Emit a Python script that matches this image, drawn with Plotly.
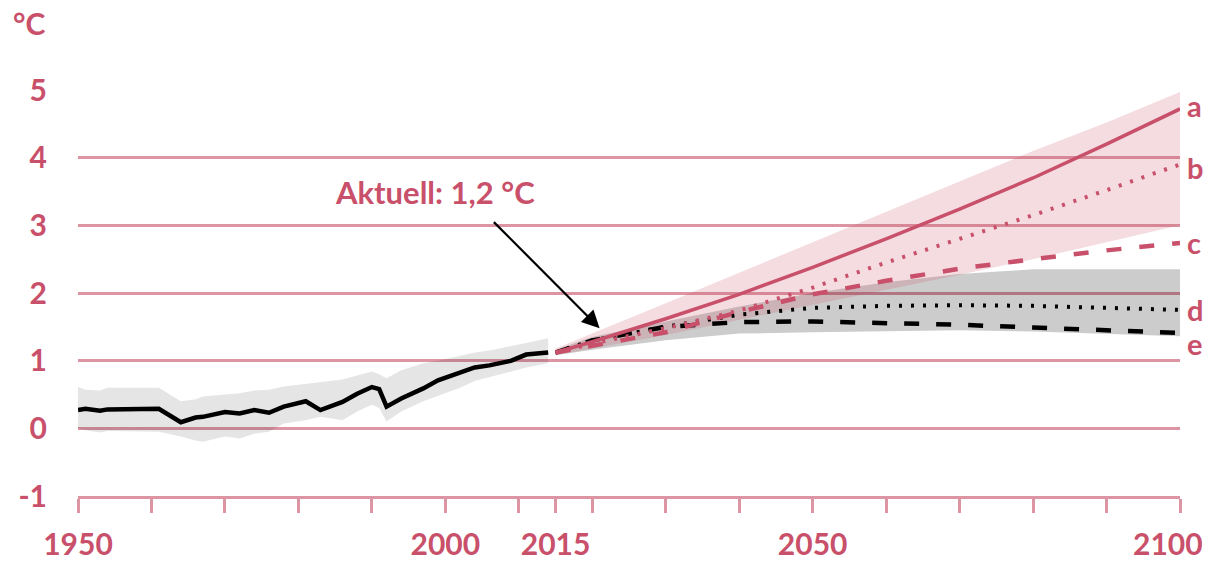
import plotly.graph_objects as go

# ---- data ----
hist_years = [1950, 1951, 1953, 1954, 1961, 1964, 1966, 1967, 1970, 1972, 1974, 1976, 1978,
              1981, 1983, 1986, 1988, 1990, 1991, 1992, 1994, 1997, 1999, 2002, 2004, 2006,
              2009, 2011, 2014]
hist_temp = [0.27, 0.29, 0.26, 0.28, 0.29, 0.09, 0.16, 0.17, 0.24, 0.22, 0.27, 0.23, 0.32,
             0.40, 0.27, 0.39, 0.51, 0.61, 0.58, 0.32, 0.44, 0.59, 0.71, 0.83, 0.90, 0.93,
             1.00, 1.09, 1.12]
hist_upper = [0.61, 0.57, 0.56, 0.60, 0.60, 0.40, 0.43, 0.47, 0.50, 0.52, 0.56, 0.57, 0.62,
              0.66, 0.68, 0.72, 0.78, 0.84, 0.80, 0.74, 0.86, 0.96, 1.00, 1.07, 1.12, 1.15,
              1.22, 1.27, 1.33]
hist_lower = [0.00, -0.03, -0.06, -0.04, -0.05, -0.12, -0.18, -0.20, -0.12, -0.15, -0.08, -0.05, 0.07,
              0.12, 0.17, 0.12, 0.25, 0.35, 0.30, 0.10, 0.25, 0.40, 0.48, 0.60, 0.70, 0.76,
              0.84, 0.90, 0.96]

proj_years = [2015, 2020, 2030, 2040, 2050, 2060, 2070, 2080, 2090, 2100]
scen_a = [1.12, 1.28, 1.62, 1.98, 2.38, 2.80, 3.24, 3.70, 4.20, 4.72]
scen_b = [1.12, 1.25, 1.48, 1.74, 2.08, 2.45, 2.80, 3.15, 3.52, 3.90]
scen_c = [1.12, 1.22, 1.42, 1.72, 1.98, 2.18, 2.36, 2.50, 2.63, 2.74]
scen_d = [1.12, 1.30, 1.50, 1.68, 1.78, 1.81, 1.82, 1.81, 1.78, 1.75]
scen_e = [1.12, 1.30, 1.50, 1.57, 1.58, 1.56, 1.53, 1.49, 1.45, 1.41]

red_upper = [1.18, 1.40, 1.85, 2.30, 2.75, 3.20, 3.65, 4.10, 4.52, 4.97]
red_lower = [1.08, 1.18, 1.38, 1.60, 1.82, 2.05, 2.27, 2.50, 2.75, 3.00]
gray_upper = [1.16, 1.35, 1.58, 1.80, 2.00, 2.16, 2.28, 2.35, 2.35, 2.35]
gray_lower = [1.08, 1.16, 1.30, 1.40, 1.42, 1.44, 1.45, 1.43, 1.40, 1.36]

scen_labels = ["a", "b", "c", "d", "e"]
label_y = [4.77, 3.86, 2.75, 1.75, 1.25]

x_tickvals = [1950, 1960, 1970, 1980, 1990, 2000, 2010, 2015, 2020, 2030, 2040, 2050,
              2060, 2070, 2080, 2090, 2100]
x_ticktext = ["1950", "", "", "", "", "2000", "", "2015", "", "", "", "2050",
              "", "", "", "", ""]
last_year_label = "2100"
y_tickvals = [-1, 0, 1, 2, 3, 4, 5]
y_ticktext = ["-1", "0", "1", "2", "3", "4", "5"]

# ---- styles ----
RED = "#c9506a"
GRID = "#dd95a3"
FONT = "Lato"
FS = 30

fig = go.Figure()

# historical uncertainty band
fig.add_trace(go.Scatter(
    x=hist_years + hist_years[::-1], y=hist_upper + hist_lower[::-1],
    fill="toself", fillcolor="rgba(0,0,0,0.10)", line=dict(width=0),
    mode="lines", hoverinfo="skip", showlegend=False))

# projection bands
fig.add_trace(go.Scatter(
    x=proj_years + proj_years[::-1], y=gray_upper + gray_lower[::-1],
    fill="toself", fillcolor="rgba(0,0,0,0.20)", line=dict(width=0),
    mode="lines", hoverinfo="skip", showlegend=False))
fig.add_trace(go.Scatter(
    x=proj_years + proj_years[::-1], y=red_upper + red_lower[::-1],
    fill="toself", fillcolor="rgba(201,80,106,0.20)", line=dict(width=0),
    mode="lines", hoverinfo="skip", showlegend=False))

# historical line
fig.add_trace(go.Scatter(x=hist_years, y=hist_temp, mode="lines",
                         line=dict(color="black", width=4.5), showlegend=False))

# scenario lines
fig.add_trace(go.Scatter(x=proj_years, y=scen_e, mode="lines",
                         line=dict(color="black", width=4.5, dash="15px,17px"), showlegend=False))
fig.add_trace(go.Scatter(x=proj_years, y=scen_d, mode="lines",
                         line=dict(color="black", width=4, dash="3px,9px"), showlegend=False))
fig.add_trace(go.Scatter(x=proj_years, y=scen_c, mode="lines",
                         line=dict(color=RED, width=4.5, dash="15px,18px"), showlegend=False))
fig.add_trace(go.Scatter(x=proj_years, y=scen_b, mode="lines",
                         line=dict(color=RED, width=4, dash="3px,9px"), showlegend=False))
fig.add_trace(go.Scatter(x=proj_years, y=scen_a, mode="lines",
                         line=dict(color=RED, width=3.5), showlegend=False))

# scenario letters
for lab, ly in zip(scen_labels, label_y):
    fig.add_annotation(x=2100, y=ly, xref="x", yref="y", text=lab, showarrow=False,
                       xanchor="left", xshift=5,
                       font=dict(family=FONT, size=29, color=RED, weight="bold"))

# last x label, kept inside the picture
fig.add_annotation(x=2100, y=0, xref="x", yref="paper", text=last_year_label, showarrow=False,
                   xanchor="center", yanchor="top", xshift=-12, yshift=-27,
                   font=dict(family=FONT, size=FS, color=RED, weight="bold"))

# current value annotation
fig.add_annotation(x=1998.6, y=3.49, xref="x", yref="y", text="Aktuell: 1,2 °C",
                   showarrow=False, font=dict(family=FONT, size=31, color=RED, weight="bold"))
fig.add_annotation(x=2021.0, y=1.48, ax=2006.4, ay=3.07, xref="x", yref="y",
                   axref="x", ayref="y", text="", showarrow=True,
                   arrowhead=2, arrowsize=1.6, arrowwidth=2.2, arrowcolor="black")

# unit label
fig.add_annotation(x=0, y=1, xref="paper", yref="paper", text="°C", showarrow=False,
                   xanchor="left", yanchor="bottom", xshift=-67, yshift=47,
                   font=dict(family=FONT, size=FS, color=RED, weight="bold"))

fig.update_layout(
    width=1216, height=563,
    margin=dict(l=78, r=36, t=90, b=67, autoexpand=False),
    paper_bgcolor="white", plot_bgcolor="white",
    xaxis=dict(range=[1950, 2100], tickmode="array", tickvals=x_tickvals, ticktext=x_ticktext,
               ticks="outside", ticklen=14, tickwidth=2.5, tickcolor=GRID,
               showline=True, linecolor=GRID, linewidth=2.5, showgrid=False, zeroline=False,
               automargin=False,
               tickfont=dict(family=FONT, size=FS, color=RED, weight="bold"),
               ticklabelstandoff=6),
    yaxis=dict(range=[-1, 5], tickmode="array", tickvals=y_tickvals, ticktext=y_ticktext,
               showgrid=True, gridcolor=GRID, gridwidth=2.5, zeroline=False,
               showline=False, ticks="", automargin=False,
               tickfont=dict(family=FONT, size=FS, color=RED, weight="bold"),
               ticklabelstandoff=30),
)

fig.write_html("out.html", config={"displayModeBar": False},
               post_script="document.body.style.margin='0';document.body.style.overflow='hidden';")
